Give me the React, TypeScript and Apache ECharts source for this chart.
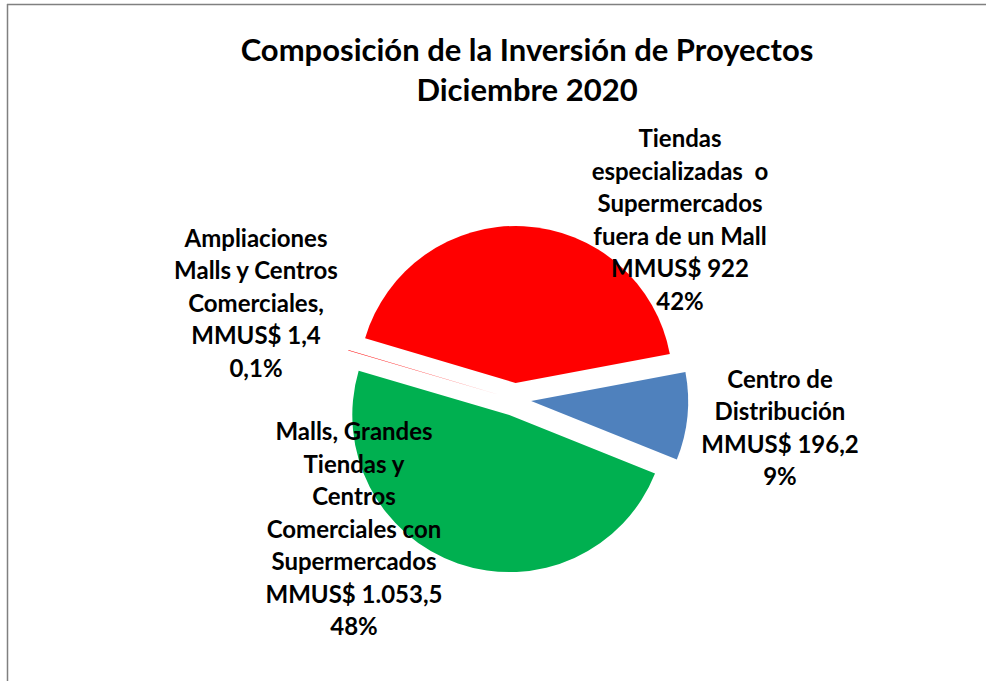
import React, { useEffect, useRef } from "react";
import * as echarts from "echarts";

const categories = [
  "Tiendas\nespecializadas  o\nSupermercados\nfuera de un Mall",
  "Centro de\nDistribución",
  "Malls, Grandes\nTiendas y\nCentros\nComerciales con\nSupermercados",
  "Ampliaciones\nMalls y Centros\nComerciales,",
];
const values = [922, 196.2, 1053.5, 1.4];
const percentLabels = ["42%", "9%", "48%", "0,1%"];
const colors = ["#FF0000", "#4F81BD", "#00B050", "#FF0000"];

const titleLines = ["Composición de la Inversión de Proyectos", "Diciembre 2020"];

// label block centres (layout, px)
const labelPos = [
  [680, 219],
  [780, 427],
  [354, 528],
  [256, 302],
];

function fmtEs(v: number): string {
  const s = Number.isInteger(v) ? v.toFixed(0) : v.toFixed(1);
  const [i, d] = s.split(".");
  const ii = i.replace(/\B(?=(\d{3})+(?!\d))/g, ".");
  return d ? `${ii},${d}` : ii;
}

export default function App() {
  const ref = useRef<HTMLDivElement>(null);
  useEffect(() => {
    if (!ref.current) return;
    const chart = echarts.init(ref.current, null, { renderer: "svg" });
    const font = "Lato, 'Open Sans', sans-serif";
    const labelTexts = values.map((v, i) => ({
      type: "text",
      silent: true,
      z: 10,
      style: {
        text: `${categories[i]}\nMMUS$ ${fmtEs(v)}\n${percentLabels[i]}`,
        x: labelPos[i][0],
        y: labelPos[i][1],
        align: "center",
        verticalAlign: "middle",
        fontFamily: font,
        fontWeight: "bold",
        fontSize: 24,
        lineHeight: 32.5,
        fill: "#000",
      },
    }));
    chart.setOption({
      animation: false,
      backgroundColor: "#ffffff",
      title: {
        text: titleLines.join("\n"),
        left: 522,
        top: 24,
        textAlign: "center",
        textStyle: {
          fontFamily: font,
          fontWeight: "bold",
          fontSize: 31,
          lineHeight: 40,
          color: "#000",
        },
      },
      graphic: [
        {
          type: "line",
          shape: { x1: 7, y1: 4.5, x2: 986, y2: 4.5 },
          style: { stroke: "#808080", lineWidth: 1.5 },
          silent: true,
        },
        {
          type: "line",
          shape: { x1: 7.5, y1: 4, x2: 7.5, y2: 681 },
          style: { stroke: "#808080", lineWidth: 1.5 },
          silent: true,
        },
        ...labelTexts,
      ],
      series: [
        {
          type: "pie",
          center: [514.7, 399.5],
          radius: 157,
          startAngle: 163.4,
          clockwise: true,
          selectedMode: "multiple",
          selectedOffset: 16.5,
          avoidLabelOverlap: false,
          emphasis: { disabled: true },
          label: { show: false },
          labelLine: { show: false },
          data: values.map((v, i) => ({
            name: categories[i],
            value: v,
            selected: true,
            itemStyle: { color: colors[i] },
          })),
        },
      ],
    });
    return () => chart.dispose();
  }, []);
  return (
    <div
      ref={ref}
      style={{ position: "fixed", left: 0, top: 0, width: 986, height: 681 }}
    />
  );
}
